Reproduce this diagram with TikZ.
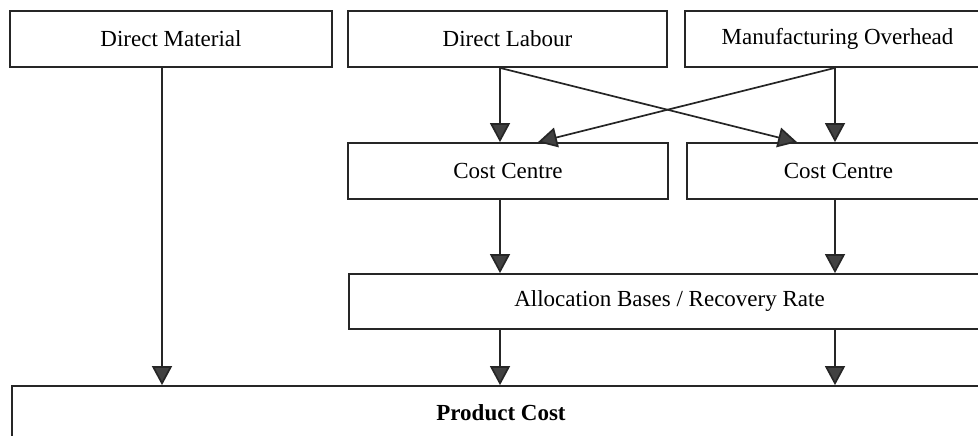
\documentclass[tikz,border=0pt]{standalone}
\usepackage{fontspec}
\setmainfont{Liberation Serif}
\usepackage{tikz}
\usetikzlibrary{arrows.meta}

\definecolor{tipgray}{RGB}{65,65,65}

\begin{document}
\begin{tikzpicture}[x=1pt, y=-1pt,
		box/.style={draw=black!85, line width=1.8pt, minimum height=56pt, inner sep=0pt, font=\fontsize{23}{27}\selectfont},
		flow/.style={-{Triangle[length=19pt, width=20pt, fill=tipgray]}, draw=black!85, line width=1.7pt}]
		\useasboundingbox (0,0) rectangle (978,436);
		
		% Riquadri
		\node[box, minimum width=322pt] (DirMat) at (171,39) {Direct Material};
		\node[box, minimum width=319pt] (DirLab) at (507.5,39) {Direct Labour};
		\node[box, minimum width=305pt] (ManOvh) at (837.5,39) {Manufacturing Overhead};
		\node[box, minimum width=320pt] (Centro1) at (508,171) {Cost Centre};
		\node[box, minimum width=303pt] (Centro2) at (838.5,171) {Cost Centre};
		\node[box, minimum width=641pt, minimum height=55pt] (Basi) at (669.5,301.5) {Allocation Bases / Recovery Rate};
		\node[box, minimum width=978pt, minimum height=54pt, font=\fontsize{23}{27}\selectfont\bfseries] (Costo) at (501,413) {Product Cost};
		
		% Colonne delle frecce
		\coordinate (colM) at (162,0);
		\coordinate (colL) at (500,0);
		\coordinate (colR) at (835,0);
		
		% Frecce
		\draw[flow] (DirMat.south -| colM) -- (Costo.north -| colM);
		\draw[flow] (DirLab.south -| colL) -- (Centro1.north -| colL);
		\draw[flow] (ManOvh.south -| colR) -- (Centro2.north -| colR);
		\draw[flow] (DirLab.south -| colL) -- ([xshift=-41.5pt]Centro2.north);
		\draw[flow] (ManOvh.south -| colR) -- ([xshift=30pt]Centro1.north);
		\draw[flow] (Centro1.south -| colL) -- (Basi.north -| colL);
		\draw[flow] (Centro2.south -| colR) -- (Basi.north -| colR);
		\draw[flow] (Basi.south -| colL) -- (Costo.north -| colL);
		\draw[flow] (Basi.south -| colR) -- (Costo.north -| colR);
	\end{tikzpicture}
\end{document}
